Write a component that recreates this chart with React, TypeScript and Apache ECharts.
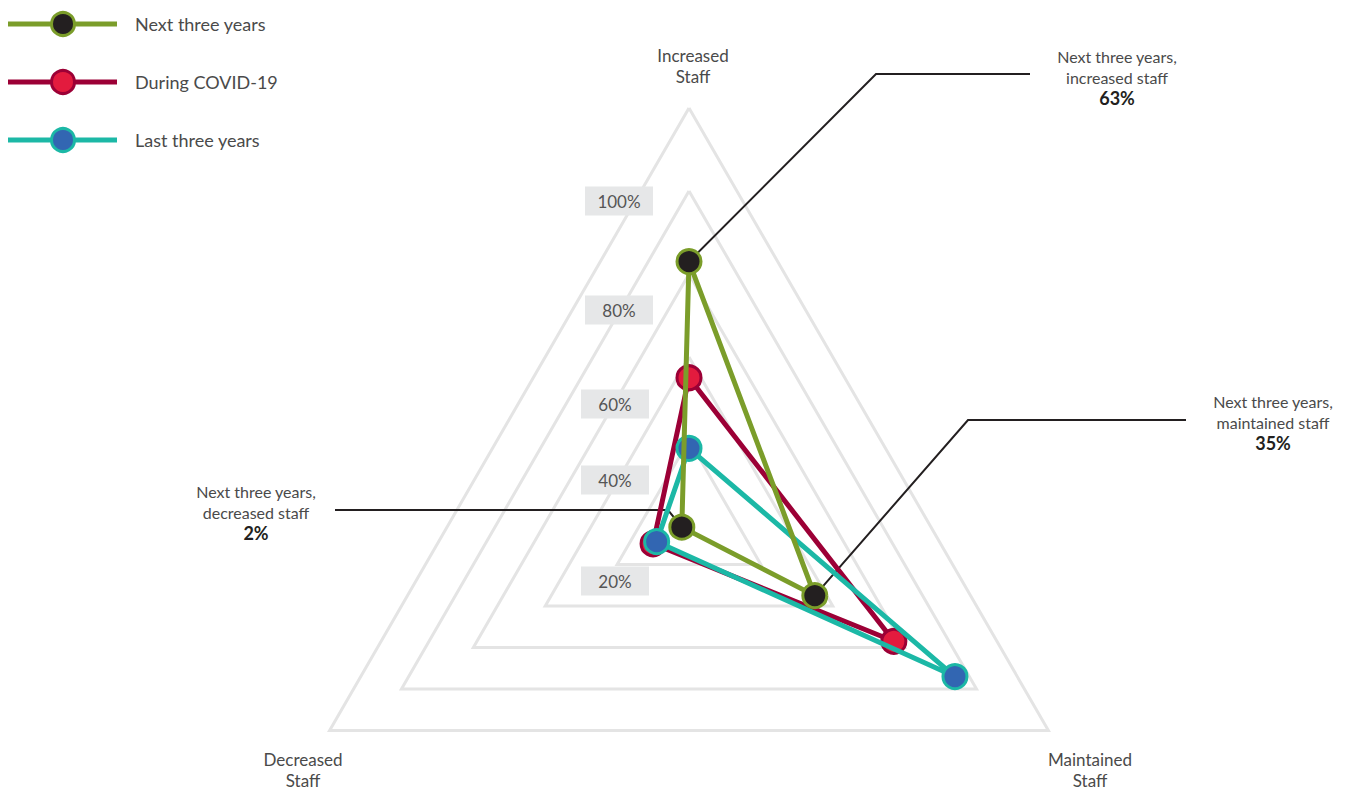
import React, { useEffect, useRef } from "react";
import * as echarts from "echarts";

// ---------- data ----------
const indicators = ["Increased\nStaff", "Decreased\nStaff", "Maintained\nStaff"];
const seriesNames = ["Next three years", "During COVID-19", "Last three years"];
const nextThreeYears = [63, 2, 35];
const duringCovid = [35, 10, 57];
const lastThreeYears = [18, 9, 74];
const tickLabels = ["20%", "40%", "60%", "80%", "100%"];
const calloutTitles = [
  "Next three years,\nincreased staff",
  "Next three years,\ndecreased staff",
  "Next three years,\nmaintained staff",
];

// ---------- styles / layout ----------
const FONT = "Lato, 'Open Sans', sans-serif";
const TEXT = "#4a4a4a";
const CENTER = [689, 523];
const RADIUS = 415;
const styles = [
  { line: "#7b9d2a", fill: "#231f20", border: "#7b9d2a" },
  { line: "#9c0036", fill: "#e31b3e", border: "#9c0036" },
  { line: "#1cb8a6", fill: "#3266b2", border: "#1cb8a6" },
];
const seriesValues = [nextThreeYears, duringCovid, lastThreeYears];
// tick label boxes: [centerX, centerY]
const tickBoxes = [
  [615, 581],
  [615, 480],
  [615, 404],
  [619, 310],
  [619, 201],
];
// callout geometry per indicator: elbow, end, text anchor x, text top y
const callouts = [
  { elbow: [876, 74], end: [1030, 74], tx: 1117, ty: 46 },
  { elbow: [668, 510], end: [335, 510], tx: 256, ty: 481 },
  { elbow: [968, 420], end: [1186, 420], tx: 1273, ty: 391 },
];
const axisNamePos = [
  [693, 45],
  [303, 749],
  [1090, 749],
];

function pointFor(value: number, idx: number) {
  const a = ((90 + idx * 120) * Math.PI) / 180;
  const r = (RADIUS * value) / 100;
  return [CENTER[0] + r * Math.cos(a), CENTER[1] - r * Math.sin(a)];
}

export default function App() {
  const ref = useRef<HTMLDivElement>(null);
  useEffect(() => {
    if (!ref.current) return;
    const chart = echarts.init(ref.current, null, { renderer: "svg" });

    const graphic: any[] = [];
    // legend
    seriesNames.forEach((name, i) => {
      const y = 24 + i * 58;
      const s = styles[i];
      graphic.push({
        type: "line",
        shape: { x1: 8, y1: y, x2: 117, y2: y },
        style: { stroke: s.line, lineWidth: 5 },
        z: 10,
      });
      graphic.push({
        type: "circle",
        shape: { cx: 63, cy: y, r: 11.5 },
        style: { fill: s.fill, stroke: s.border, lineWidth: 3 },
        z: 11,
      });
      graphic.push({
        type: "text",
        x: 135,
        y,
        style: {
          text: name,
          fill: TEXT,
          font: `18px ${FONT}`,
          verticalAlign: "middle",
          align: "left",
        },
        z: 10,
      });
    });
    // tick labels
    tickLabels.forEach((t, i) => {
      const [cx, cy] = tickBoxes[i];
      graphic.push({
        type: "rect",
        shape: { x: cx - 34, y: cy - 14.5, width: 68, height: 29 },
        style: { fill: "#e6e7e8" },
        z: 1,
      });
      graphic.push({
        type: "text",
        x: cx,
        y: cy,
        style: {
          text: t,
          fill: "#555555",
          font: `17px ${FONT}`,
          align: "center",
          verticalAlign: "middle",
        },
        z: 1,
      });
    });
    // axis names
    indicators.forEach((n, i) => {
      graphic.push({
        type: "text",
        x: axisNamePos[i][0],
        y: axisNamePos[i][1],
        style: {
          text: n,
          fill: TEXT,
          font: `17px ${FONT}`,
          align: "center",
          verticalAlign: "top",
          lineHeight: 21,
        },
      });
    });
    // callouts for "Next three years"
    callouts.forEach((c, i) => {
      const p = pointFor(nextThreeYears[i], i);
      graphic.push({
        type: "polyline",
        shape: { points: [p, c.elbow, c.end] },
        style: { stroke: "#231f20", lineWidth: 2, fill: null },
        z: 1,
      });
      graphic.push({
        type: "text",
        x: c.tx,
        y: c.ty,
        style: {
          text: calloutTitles[i],
          fill: TEXT,
          font: `16px ${FONT}`,
          align: "center",
          verticalAlign: "top",
          lineHeight: 21,
        },
      });
      graphic.push({
        type: "text",
        x: c.tx,
        y: c.ty + 43,
        style: {
          text: nextThreeYears[i] + "%",
          fill: "#231f20",
          font: `bold 18px ${FONT}`,
          align: "center",
          verticalAlign: "top",
        },
      });
    });

    const order = [1, 2, 0];
    const option: any = {
      animation: false,
      backgroundColor: "#ffffff",
      radar: {
        center: CENTER,
        radius: RADIUS,
        startAngle: 90,
        shape: "polygon",
        splitNumber: 5,
        indicator: indicators.map((n) => ({ name: n, max: 100, min: 0 })),
        axisName: { show: false },
        axisLine: { show: false },
        axisTick: { show: false },
        axisLabel: { show: false },
        splitArea: { show: false },
        splitLine: { lineStyle: { color: "#e4e4e4", width: 3 } },
      },
      series: order.map((i, k) => ({
        type: "radar",
        name: seriesNames[i],
        z: 3 + k,
        symbol: "circle",
        symbolSize: 24,
        lineStyle: { color: styles[i].line, width: 5 },
        itemStyle: {
          color: styles[i].fill,
          borderColor: styles[i].border,
          borderWidth: 3,
        },
        data: [{ value: seriesValues[i], name: seriesNames[i] }],
      })),
      graphic,
    };
    chart.setOption(option);
    return () => chart.dispose();
  }, []);
  return (
    <div
      ref={ref}
      style={{ position: "fixed", left: 0, top: 0, width: 1356, height: 792 }}
    />
  );
}
